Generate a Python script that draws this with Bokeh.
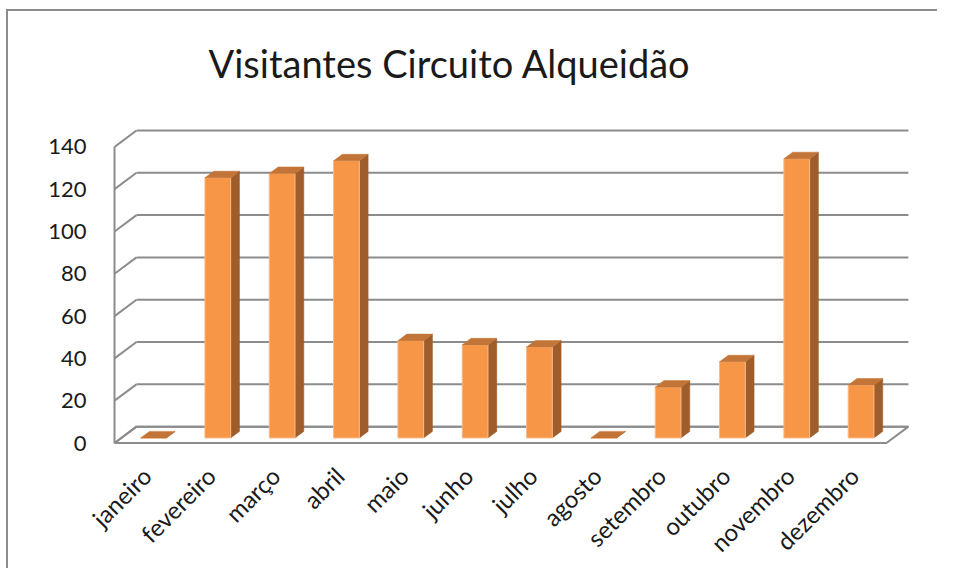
from bokeh.plotting import figure
from bokeh.models import Range1d, FixedTicker, Label
from bokeh.embed import file_html
from bokeh.resources import INLINE

# ---- data ----
months = ["janeiro", "fevereiro", "março", "abril", "maio", "junho",
          "julho", "agosto", "setembro", "outubro", "novembro", "dezembro"]
visitors = [0, 123, 125, 131, 46, 44, 43, 0, 24, 36, 132, 25]
y_ticks = [0, 20, 40, 60, 80, 100, 120, 140]
title_text = "Visitantes Circuito Alqueidão"

# ---- 3D style constants (pseudo-perspective offsets, in data units) ----
DX, DY = 0.342, 7.75          # full floor depth
F0, F1 = 0.31, 0.71           # bar front / back depth fractions
BAR_HALF = 0.2
GRID = "#8c8c8c"
FONT = "Lato"

n = len(months)
centers = [i + 0.5 for i in range(n)]

p = figure(width=931, height=559, output_backend="svg", toolbar_location=None,
           x_range=Range1d(0, 12.39), y_range=Range1d(-1.17, 201.65),
           min_border_left=106, min_border_right=28, min_border_top=5,
           min_border_bottom=122, outline_line_color=None,
           background_fill_color="white", border_fill_color="white")
p.styles = {"margin-left": "8px", "margin-top": "11px",
            "box-shadow": "-2px -2px 0 0 #8c8c8c"}
p.xgrid.visible = False
p.ygrid.visible = False

# title (inside the frame, positioned in screen pixels from frame bottom-left)
p.add_layout(Label(x=94, y=383, x_units="screen", y_units="screen",
                   text=title_text, text_font=FONT, text_font_size="38px",
                   text_color="#1a1a1a", text_baseline="alphabetic",
                   text_align="left"))

# y axis (front edge)
ya = p.yaxis[0]
ya.ticker = FixedTicker(ticks=y_ticks)
ya.bounds = (0, max(y_ticks))
ya.axis_line_color = GRID
ya.axis_line_width = 2
ya.major_tick_in = 0
ya.major_tick_out = 0
ya.minor_tick_line_color = None
ya.major_label_standoff = 28
ya.major_label_text_font = FONT
ya.major_label_text_font_size = "22px"
ya.major_label_text_color = "#1a1a1a"

# x axis (category labels)
xa = p.xaxis[0]
xa.ticker = FixedTicker(ticks=centers)
xa.major_label_overrides = {c: m for c, m in zip(centers, months)}
xa.major_label_orientation = 0.785398
xa.axis_line_color = None
xa.major_tick_line_color = None
xa.minor_tick_line_color = None
xa.major_label_standoff = 20
xa.major_label_text_font = FONT
xa.major_label_text_font_size = "24px"
xa.major_label_text_color = "#1a1a1a"

# floor
p.patch([0, n, n + DX, DX], [0, 0, DY, DY], fill_color=None,
        line_color=GRID, line_width=2)

# back wall gridlines and left side-wall depth lines
p.segment(x0=[DX] * len(y_ticks), y0=[v + DY for v in y_ticks],
          x1=[n + DX] * len(y_ticks), y1=[v + DY for v in y_ticks],
          line_color=GRID, line_width=2)
p.segment(x0=[0] * len(y_ticks), y0=y_ticks,
          x1=[DX] * len(y_ticks), y1=[v + DY for v in y_ticks],
          line_color=GRID, line_width=2)

# bars (front, side, top faces)
fx, fy = F0 * DX, F0 * DY
bx, by = (F1 - F0) * DX, (F1 - F0) * DY
front_x, front_y, side_x, side_y, top_x, top_y = [], [], [], [], [], []
for c, v in zip(centers, visitors):
    x0, x1 = c - BAR_HALF + fx, c + BAR_HALF + fx
    y0, y1 = fy, v + fy
    front_x.append([x0, x1, x1, x0]); front_y.append([y0, y0, y1, y1])
    side_x.append([x1, x1 + bx, x1 + bx, x1]); side_y.append([y0, y0 + by, y1 + by, y1])
    top_x.append([x0, x1, x1 + bx, x0 + bx]); top_y.append([y1, y1, y1 + by, y1 + by])

p.patches(side_x, side_y, fill_color="#9E5D2A", line_color="#9E5D2A", line_width=0.5)
p.patches(front_x, front_y, fill_color="#F79646", line_color="#FAB987", line_width=1)
p.patches(top_x, top_y, fill_color="#C37537", line_color="#C37537", line_width=0.5)

open("out.html", "w").write(file_html(p, INLINE))
